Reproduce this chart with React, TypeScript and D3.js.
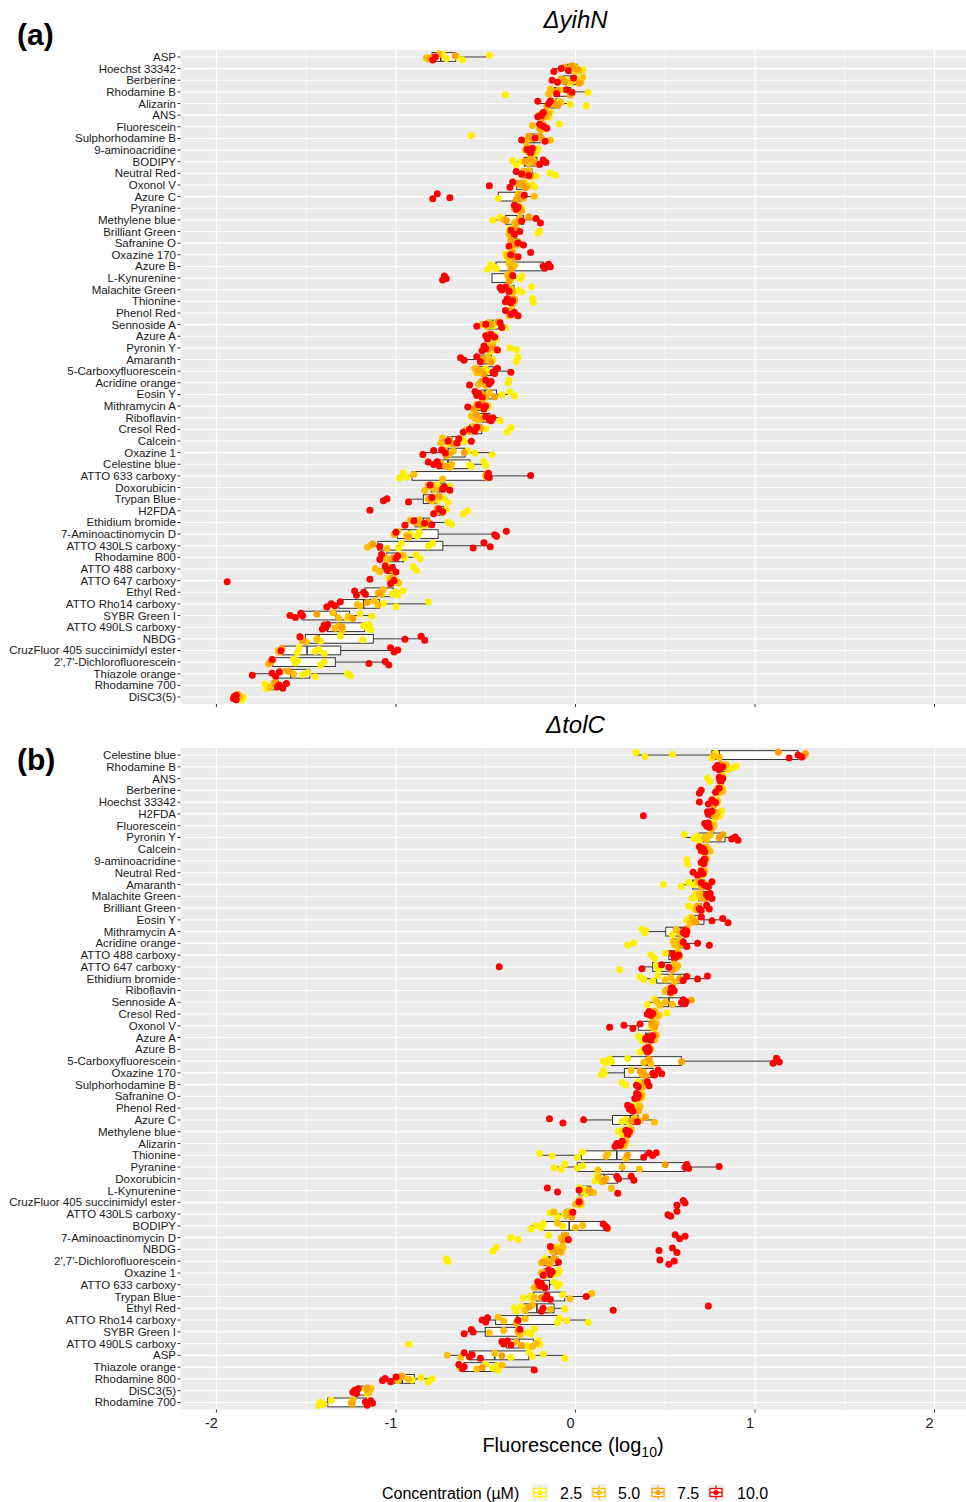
import React from 'react';
import * as d3 from 'd3';

const W = 966;
const H = 1502;

const concLabels = ['2.5', '5.0', '7.5', '10.0'];
const concColors = ['#FFF000', '#FFC000', '#FFA200', '#FF0000'];
const xTicks = [-2, -1, 0, 1, 2];
const xMinor = [-1.5, -0.5, 0.5, 1.5];

const yihnCats = ['ASP', 'Hoechst 33342', 'Berberine', 'Rhodamine B', 'Alizarin', 'ANS', 'Fluorescein', 'Sulphorhodamine B', '9-aminoacridine', 'BODIPY', 'Neutral Red', 'Oxonol V', 'Azure C', 'Pyranine', 'Methylene blue', 'Brilliant Green', 'Safranine O', 'Oxazine 170', 'Azure B', 'L-Kynurenine', 'Malachite Green', 'Thionine', 'Phenol Red', 'Sennoside A', 'Azure A', 'Pyronin Y', 'Amaranth', '5-Carboxyfluorescein', 'Acridine orange', 'Eosin Y', 'Mithramycin A', 'Riboflavin', 'Cresol Red', 'Calcein', 'Oxazine 1', 'Celestine blue', 'ATTO 633 carboxy', 'Doxorubicin', 'Trypan Blue', 'H2FDA', 'Ethidium bromide', '7-Aminoactinomycin D', 'ATTO 430LS carboxy', 'Rhodamine 800', 'ATTO 488 carboxy', 'ATTO 647 carboxy', 'Ethyl Red', 'ATTO Rho14 carboxy', 'SYBR Green I', 'ATTO 490LS carboxy', 'NBDG', 'CruzFluor 405 succinimidyl ester', "2',7'-Dichlorofluorescein", 'Thiazole orange', 'Rhodamine 700', 'DiSC3(5)'];

const yihn25: number[][] = [
  [-0.74, -0.72, -0.66, -0.63, -0.48], [0.04, 0.01, 0.0], [-0.05, -0.03, 0.0], [-0.39, -0.08, 0.07], [-0.09, -0.03, 0.06],
  [-0.17, -0.15, -0.14], [-0.17, -0.09, -0.16], [-0.58, -0.27, -0.22], [-0.24, -0.21, -0.22], [-0.35, -0.33, -0.30],
  [-0.22, -0.14, -0.11], [-0.24, -0.23, -0.28], [-0.43, -0.31, -0.30], [-0.32, -0.30, -0.31], [-0.46, -0.42, -0.33],
  [-0.37, -0.21, -0.20], [-0.35, -0.33, -0.34], [-0.39, -0.38, -0.36], [-0.49, -0.47, -0.45, -0.44], [-0.30, -0.31, -0.36],
  [-0.32, -0.30, -0.245], [-0.35, -0.24, -0.235], [-0.36, -0.34, -0.35], [-0.46, -0.44, -0.39], [-0.45, -0.44, -0.47],
  [-0.47, -0.365, -0.33], [-0.46, -0.33, -0.32], [-0.52, -0.50, -0.49], [-0.49, -0.375, -0.37], [-0.41, -0.365, -0.34],
  [-0.52, -0.49, -0.485], [-0.55, -0.53, -0.42], [-0.50, -0.38, -0.36], [-0.70, -0.63, -0.62], [-0.60, -0.56, -0.465],
  [-0.59, -0.58, -0.51, -0.50], [-0.98, -0.96, -0.94], [-0.77, -0.71, -0.70], [-0.77, -0.735, -0.71], [-0.72, -0.625, -0.60],
  [-0.84, -0.71, -0.69], [-0.92, -0.88, -0.87], [-0.985, -0.97, -0.82, -0.795], [-0.97, -0.95, -0.89, -0.865], [-1.02, -0.905, -0.885],
  [-1.04, -1.02, -1.0, -0.99], [-1.02, -1.0, -0.99, -0.96], [-1.07, -1.0, -0.82], [-1.27, -1.20, -1.135], [-1.18, -1.16, -1.14, -1.15],
  [-1.44, -1.42, -1.31, -1.185], [-1.55, -1.54, -1.45, -1.43, -1.40], [-1.57, -1.56, -1.55, -1.42, -1.40], [-1.52, -1.49, -1.45, -1.27, -1.255], [-1.73, -1.72, -1.67],
  [-1.86, -1.85, -1.87],
];
const yihn50: number[][] = [
  [-0.83, -0.82, -0.76], [-0.01, 0.0, 0.02], [-0.02, 0.03, 0.04], [-0.15, -0.14, -0.02], [-0.13, -0.11, -0.08],
  [-0.16, -0.15, -0.19], [-0.24, -0.19, -0.18], [-0.28, -0.19, -0.14], [-0.28, -0.26, -0.25], [-0.26, -0.24, -0.23],
  [-0.29, -0.28, -0.26], [-0.31, -0.29, -0.27], [-0.32, -0.29, -0.23], [-0.33, -0.31, -0.30], [-0.40, -0.34, -0.31],
  [-0.37, -0.35, -0.34], [-0.35, -0.34, -0.33], [-0.38, -0.37, -0.35], [-0.37, -0.35, -0.34], [-0.38, -0.37, -0.36],
  [-0.37, -0.36, -0.35], [-0.37, -0.35, -0.34], [-0.37, -0.35, -0.34], [-0.52, -0.49, -0.48], [-0.49, -0.48, -0.47],
  [-0.48, -0.47, -0.46], [-0.50, -0.49, -0.48], [-0.56, -0.55, -0.53], [-0.54, -0.51, -0.50], [-0.52, -0.50, -0.48],
  [-0.57, -0.55, -0.53], [-0.58, -0.56, -0.54], [-0.61, -0.59, -0.57], [-0.75, -0.74, -0.72], [-0.73, -0.70, -0.68],
  [-0.75, -0.70, -0.69], [-0.90, -0.74], [-0.84, -0.80, -0.78], [-0.82, -0.80, -0.79], [-0.78, -0.76, -0.75],
  [-0.92, -0.89, -0.87], [-1.01, -0.99, -0.94], [-1.16, -1.14, -1.05], [-1.06, -1.05, -0.96], [-1.115, -1.09, -1.04],
  [-1.03, -1.01, -0.985], [-1.10, -1.08, -1.07], [-1.215, -1.20, -1.12, -1.10], [-1.32, -1.35, -1.265], [-1.34, -1.32, -1.30],
  [-1.53, -1.50, -1.44], [-1.655, -1.65], [-1.71, -1.685], [-1.64, -1.57], [-1.70, -1.68, -1.665],
  [-1.88, -1.87],
];
const yihn75: number[][] = [
  [-0.81, -0.67], [-0.02, 0.01, -0.06], [-0.06, -0.08, 0.02], [-0.10, -0.03, -0.11], [-0.16, -0.12, -0.10],
  [-0.20, -0.18, -0.17], [-0.20, -0.18, -0.17], [-0.26, -0.24, -0.20], [-0.25, -0.27, -0.24], [-0.25, -0.22, -0.28],
  [-0.30, -0.27, -0.25], [-0.30, -0.28, -0.32], [-0.33, -0.31, -0.30], [-0.32, -0.34, -0.31], [-0.385, -0.32, -0.26],
  [-0.36, -0.33, -0.34], [-0.36, -0.33, -0.32], [-0.36, -0.35, -0.34], [-0.36], [-0.37, -0.36],
  [-0.38, -0.36], [-0.36, -0.34], [-0.36, -0.35], [-0.47, -0.43], [-0.48, -0.46],
  [-0.49, -0.46], [-0.52, -0.47], [-0.51, -0.54], [-0.52, -0.49], [-0.51, -0.45],
  [-0.56, -0.52], [-0.55, -0.52], [-0.58, -0.53], [-0.70, -0.68], [-0.72, -0.62],
  [-0.72], [-0.50, -0.49, -0.495], [-0.82, -0.74], [-0.81, -0.76], [-0.77, -0.74],
  [-0.86, -0.82], [-1.005, -0.93], [-1.13], [-1.02], [-1.03, -1.01],
  [-1.02], [-1.09], [-1.16], [-1.44, -1.24], [-1.30],
  [-1.52], [-1.635], [-1.70], [-1.60], [-1.67],
  [-1.88],
];
const yihn100: number[][] = [
  [-0.795, -0.78], [-0.12, -0.08, -0.04], [-0.13, -0.10, -0.01], [-0.105, -0.05, -0.02], [-0.21, -0.15, -0.14],
  [-0.19, -0.18, -0.21], [-0.20, -0.16, -0.18], [-0.30, -0.225, -0.17], [-0.27, -0.25, -0.24], [-0.20, -0.18, -0.165],
  [-0.33, -0.30, -0.26], [-0.48, -0.365, -0.35], [-0.795, -0.77, -0.70, -0.285], [-0.34, -0.33, -0.32], [-0.30, -0.22, -0.195],
  [-0.36, -0.34, -0.31], [-0.37, -0.32, -0.29], [-0.36, -0.32, -0.25], [-0.18, -0.17, -0.15, -0.14], [-0.74, -0.73, -0.72, -0.35],
  [-0.42, -0.41, -0.39, -0.37], [-0.39, -0.38, -0.36, -0.35], [-0.39, -0.36, -0.34, -0.32], [-0.55, -0.50, -0.41, -0.42], [-0.50, -0.49, -0.47, -0.45],
  [-0.52, -0.51, -0.50, -0.435], [-0.64, -0.62, -0.53, -0.55], [-0.46, -0.45, -0.435, -0.36], [-0.59, -0.50, -0.48, -0.47], [-0.56, -0.55, -0.54, -0.52],
  [-0.60, -0.54, -0.51, -0.50], [-0.50, -0.47, -0.46, -0.48], [-0.625, -0.59, -0.56, -0.55], [-0.71, -0.66, -0.65, -0.58], [-0.85, -0.79, -0.725, -0.745],
  [-0.82, -0.79, -0.77, -0.76], [-0.49, -0.485, -0.48, -0.25], [-0.81, -0.74, -0.73, -0.70], [-1.07, -1.05, -0.93, -0.80], [-1.145, -0.79, -0.76, -0.74],
  [-0.95, -0.90, -0.84, -0.80], [-1.0, -0.45, -0.44, -0.385], [-1.09, -0.57, -0.51, -0.475], [-1.09, -1.08, -1.0, -0.99], [-1.06, -1.05, -1.02, -1.0],
  [-1.94, -1.145, -1.03, -1.01], [-1.23, -1.22, -1.18, -1.17], [-1.385, -1.36, -1.34, -1.31], [-1.59, -1.56, -1.53, -1.52], [-1.41, -1.40, -1.39, -1.38],
  [-1.535, -0.95, -0.86, -0.84], [-1.64, -1.03, -1.01, -0.99], [-1.69, -1.15, -1.06, -1.04], [-1.80, -1.69, -1.67, -1.65], [-1.66, -1.65, -1.63, -1.61],
  [-1.905, -1.90, -1.89, -1.89],
];

const tolcCats = ['Celestine blue', 'Rhodamine B', 'ANS', 'Berberine', 'Hoechst 33342', 'H2FDA', 'Fluorescein', 'Pyronin Y', 'Calcein', '9-aminoacridine', 'Neutral Red', 'Amaranth', 'Malachite Green', 'Brilliant Green', 'Eosin Y', 'Mithramycin A', 'Acridine orange', 'ATTO 488 carboxy', 'ATTO 647 carboxy', 'Ethidium bromide', 'Riboflavin', 'Sennoside A', 'Cresol Red', 'Oxonol V', 'Azure A', 'Azure B', '5-Carboxyfluorescein', 'Oxazine 170', 'Sulphorhodamine B', 'Safranine O', 'Phenol Red', 'Azure C', 'Methylene blue', 'Alizarin', 'Thionine', 'Pyranine', 'Doxorubicin', 'L-Kynurenine', 'CruzFluor 405 succinimidyl ester', 'ATTO 430LS carboxy', 'BODIPY', '7-Aminoactinomycin D', 'NBDG', "2',7'-Dichlorofluorescein", 'Oxazine 1', 'ATTO 633 carboxy', 'Trypan Blue', 'Ethyl Red', 'ATTO Rho14 carboxy', 'SYBR Green I', 'ATTO 490LS carboxy', 'ASP', 'Thiazole orange', 'Rhodamine 800', 'DiSC3(5)', 'Rhodamine 700'];

const tolc25: number[][] = [
  [0.337, 0.387, 0.54, 0.76, 0.78], [0.87, 0.895, 0.85], [0.735, 0.75, 0.81], [0.80, 0.82, 0.81], [0.78, 0.79, 0.77],
  [0.78, 0.80, 0.815], [0.76, 0.77, 0.75], [0.605, 0.66, 0.68, 0.69], [0.72, 0.73, 0.71], [0.62, 0.625, 0.72],
  [0.70, 0.72, 0.71], [0.49, 0.59, 0.63, 0.66], [0.65, 0.67, 0.68], [0.63, 0.66, 0.68], [0.62, 0.64, 0.63, 0.655],
  [0.37, 0.385, 0.39, 0.54], [0.29, 0.325, 0.56], [0.42, 0.44, 0.50], [0.245, 0.45, 0.47, 0.46], [0.36, 0.38, 0.43, 0.46],
  [0.52, 0.53, 0.54], [0.40, 0.44, 0.46], [0.44, 0.47, 0.51], [0.42, 0.43, 0.44], [0.35, 0.37, 0.39],
  [0.36, 0.38, 0.39], [0.155, 0.17, 0.19, 0.20, 0.29], [0.145, 0.155, 0.16], [0.26, 0.28, 0.35], [0.35, 0.36, 0.37],
  [0.33, 0.34, 0.35], [0.26, 0.28, 0.30], [0.24, 0.26, 0.27], [0.26, 0.27, 0.28], [-0.20, -0.13, 0.01, 0.04],
  [-0.12, -0.08, -0.06, 0.01, 0.04], [0.11, 0.12, 0.14], [0.02, 0.04, 0.05, 0.06], [0.01, 0.02, 0.03, 0.015], [-0.14, -0.10, -0.06, -0.04],
  [-0.25, -0.22, -0.19, -0.18, -0.07], [-0.36, -0.32, -0.15], [-0.46, -0.44, -0.11, -0.10], [-0.72, -0.71, -0.17], [-0.10, -0.09, -0.12],
  [-0.12, -0.10, -0.09], [-0.29, -0.25, -0.24, -0.07], [-0.34, -0.33, -0.30, -0.06], [-0.10, -0.09, -0.05, 0.07], [-0.32, -0.27, -0.25, -0.23],
  [-0.93, -0.27, -0.21, -0.20], [-0.36, -0.26, -0.24, -0.18, -0.06], [-0.50, -0.46, -0.44, -0.43], [-0.91, -0.86, -0.82, -0.80], [-1.17, -1.16, -1.15],
  [-1.43, -1.42, -1.40, -1.36],
];
const tolc50: number[][] = [
  [0.77, 0.80], [0.84, 0.83, 0.80], [0.80, 0.81, 0.82], [0.80, 0.81, 0.82], [0.76, 0.78, 0.79],
  [0.77, 0.79, 0.78], [0.74, 0.76, 0.77], [0.72, 0.73, 0.75], [0.74, 0.75, 0.73], [0.72, 0.73, 0.71],
  [0.72, 0.71, 0.70], [0.68, 0.70, 0.72], [0.69, 0.70, 0.71], [0.67, 0.69, 0.70], [0.64, 0.65, 0.66],
  [0.56, 0.58, 0.59], [0.545, 0.55, 0.57, 0.58], [0.55, 0.56, 0.57], [0.55, 0.56, 0.57], [0.50, 0.53, 0.55],
  [0.50, 0.51, 0.53], [0.45, 0.47, 0.50, 0.54], [0.43, 0.45, 0.46], [0.43, 0.44, 0.45], [0.44, 0.45, 0.43],
  [0.41, 0.42, 0.40], [0.38, 0.40, 0.42], [0.31, 0.37, 0.38], [0.36, 0.38, 0.37], [0.36, 0.35, 0.37],
  [0.35, 0.36, 0.34], [0.33, 0.36, 0.44], [0.29, 0.30, 0.31], [0.27, 0.28, 0.26], [0.17, 0.18, 0.28],
  [0.125, 0.26, 0.355], [0.13, 0.15, 0.17], [0.07, 0.10, 0.20], [0.0, 0.02, 0.03, 0.025], [-0.12, -0.05, -0.04, -0.03],
  [-0.10, 0.0, 0.04], [-0.08, -0.06, -0.055, -0.05], [-0.13, -0.10, -0.08, -0.07], [-0.19, -0.16, -0.14, -0.11], [-0.19, -0.17, -0.16],
  [-0.23, -0.20, -0.18], [-0.23, -0.03, 0.09], [-0.28, -0.24, -0.14], [-0.43, -0.40, -0.28], [-0.48, -0.40, -0.31],
  [-0.33, -0.24, -0.22], [-0.715, -0.64, -0.45], [-0.645, -0.55, -0.41], [-0.99, -0.96, -0.93], [-1.15, -1.14, -1.16],
  [-1.25, -1.24],
];
const tolc75: number[][] = [
  [1.13, 1.27, 1.28], [0.81], [0.81], [0.79], [0.77],
  [0.76], [0.75], [0.80, 0.82], [0.72], [0.72],
  [0.71], [0.71], [0.72], [0.68], [0.67],
  [0.62], [0.59], [0.58], [0.54], [0.58],
  [0.52], [0.645], [0.44], [0.44, 0.425], [0.44],
  [0.41], [0.41, 0.59], [0.39, 0.36], [0.39], [0.36],
  [0.35], [0.39, 0.31], [0.30], [0.27], [0.29],
  [0.50], [0.16], [0.08], [0.02], [-0.03, -0.02],
  [0.18], [-0.07, -0.06, -0.045], [-0.12, -0.09], [-0.18, -0.15, -0.12], [-0.18],
  [-0.21], [-0.19], [-0.26], [-0.33], [-0.32],
  [-0.30], [-0.41], [-0.52], [-0.97], [-1.16],
  [-1.245],
];
const tolc100: number[][] = [
  [1.19, 1.24, 1.26], [0.78, 0.79, 0.80, 0.82], [0.80, 0.81, 0.82, 0.805], [0.69, 0.70, 0.78, 0.80], [0.69, 0.74, 0.76, 0.78],
  [0.378, 0.735, 0.74, 0.76], [0.72, 0.73, 0.74, 0.745], [0.87, 0.89, 0.905], [0.69, 0.70, 0.71, 0.72], [0.70, 0.71, 0.715, 0.72],
  [0.655, 0.68, 0.70, 0.71], [0.70, 0.72, 0.74, 0.76], [0.73, 0.74, 0.76, 0.75], [0.69, 0.70, 0.73, 0.745], [0.70, 0.76, 0.82, 0.85],
  [0.60, 0.61, 0.615, 0.62], [0.60, 0.62, 0.68, 0.745], [0.54, 0.55, 0.575, 0.56], [-0.425, 0.37, 0.48, 0.52], [0.60, 0.62, 0.68, 0.735],
  [0.53, 0.54, 0.55, 0.535], [0.59, 0.60, 0.61, 0.615], [0.40, 0.41, 0.42, 0.43], [0.19, 0.27, 0.32, 0.36], [0.39, 0.40, 0.42, 0.43],
  [0.39, 0.40, 0.405, 0.41], [1.10, 1.12, 1.135], [0.43, 0.44, 0.46, 0.48], [0.34, 0.35, 0.40, 0.41], [0.33, 0.34, 0.345, 0.35],
  [0.29, 0.30, 0.31, 0.32], [-0.145, -0.07, 0.045, 0.345], [0.28, 0.29, 0.30, 0.29], [0.22, 0.23, 0.25, 0.26], [0.38, 0.41, 0.43, 0.45],
  [0.61, 0.62, 0.63, 0.80], [0.23, 0.24, 0.31, 0.325], [-0.157, -0.10, 0.02, 0.235], [0.02, 0.565, 0.60, 0.61], [-0.015, 0.515, 0.53, 0.565],
  [0.155, 0.17, 0.175], [-0.04, 0.555, 0.58, 0.61], [-0.14, 0.465, 0.54, 0.565], [-0.095, 0.47, 0.52, 0.55], [-0.18, -0.15, -0.14, -0.13],
  [-0.21, -0.20, -0.19, -0.17], [-0.16, -0.14, 0.06, -0.17], [-0.19, -0.18, 0.21, 0.74], [-0.52, -0.50, -0.49, -0.32], [-0.62, -0.58, -0.57, -0.31],
  [-0.41, -0.40, -0.38, -0.36], [-0.62, -0.59, -0.575, -0.53], [-0.65, -0.63, -0.62, -0.23], [-1.075, -1.06, -1.03, -1.0], [-1.24, -1.23, -1.22, -1.21],
  [-1.17, -1.16, -1.14, -1.13],
];

// deterministic vertical jitter pattern (px)
const jitter = [-2.6, 1.5, -0.5, 2.8, -1.8, 0.7, 2.2, -2.9, 1.0, -1.3, 3.0, -0.1, 1.9, -2.2, 0.3];

const x = d3.scaleLinear().domain([-2.2, 2.2]).range([180.5, 970.5]);
const FONT = '"Liberation Sans", Arial, Helvetica, sans-serif';

function boxStats(vals: number[]) {
  const s = vals.slice().sort(d3.ascending);
  const q1 = d3.quantileSorted(s, 0.25) as number;
  const med = d3.quantileSorted(s, 0.5) as number;
  const q3 = d3.quantileSorted(s, 0.75) as number;
  const iqr = q3 - q1;
  const lo = d3.min(s.filter((v) => v >= q1 - 1.5 * iqr)) as number;
  const hi = d3.max(s.filter((v) => v <= q3 + 1.5 * iqr)) as number;
  return { q1, med, q3, lo, hi };
}

function Panel({ cats, series, top, bottom, showTickLabels }: { cats: string[]; series: number[][][]; top: number; bottom: number; showTickLabels: boolean }) {
  const y = d3.scalePoint<string>().domain(cats).range([top, bottom]).padding(0.6);
  const step = y.step();
  const boxH = step * 0.75;
  const left = x(-2.2);
  const right = x(2.2);
  return (
    <g>
      <rect x={left} y={top} width={right - left} height={bottom - top} fill="#EBEBEB" />
      {xMinor.map((t) => (
        <line key={'mi' + t} x1={x(t)} x2={x(t)} y1={top} y2={bottom} stroke="#fff" strokeWidth={0.55} />
      ))}
      {xTicks.map((t) => (
        <line key={'ma' + t} x1={x(t)} x2={x(t)} y1={top} y2={bottom} stroke="#fff" strokeWidth={1.1} />
      ))}
      {cats.map((c) => (
        <line key={'h' + c} x1={left} x2={right} y1={y(c)} y2={y(c)} stroke="#fff" strokeWidth={1.1} />
      ))}
      {cats.map((c, i) => {
        const all = series.flatMap((s) => s[i]);
        const b = boxStats(all);
        const cy = y(c) as number;
        return (
          <g key={'b' + c}>
            <line x1={x(b.lo)} x2={x(b.q1)} y1={cy} y2={cy} stroke="#333" strokeWidth={1} />
            <line x1={x(b.q3)} x2={x(b.hi)} y1={cy} y2={cy} stroke="#333" strokeWidth={1} />
            <rect x={x(b.q1)} y={cy - boxH / 2} width={Math.max(0.5, x(b.q3) - x(b.q1))} height={boxH} fill="#fff" stroke="#333" strokeWidth={1} />
            <line x1={x(b.med)} x2={x(b.med)} y1={cy - boxH / 2} y2={cy + boxH / 2} stroke="#333" strokeWidth={1.6} />
          </g>
        );
      })}
      {cats.map((c, i) => {
        const cy = y(c) as number;
        let k = 0;
        return (
          <g key={'p' + c}>
            {series.map((s, si) =>
              s[i].map((v, vi) => {
                const off = jitter[(k++ + i) % jitter.length];
                return <circle key={si + '-' + vi} cx={x(v)} cy={cy + off} r={3.5} fill={concColors[si]} />;
              })
            )}
          </g>
        );
      })}
      {cats.map((c) => (
        <g key={'l' + c}>
          <line x1={left - 3} x2={left} y1={y(c)} y2={y(c)} stroke="#333" strokeWidth={1} />
          <text x={left - 4.5} y={y(c)} dy="0.35em" textAnchor="end" fontSize={11.5} fill="#1a1a1a" fontFamily={FONT}>
            {c}
          </text>
        </g>
      ))}
      {xTicks.map((t) => (
        <g key={'xt' + t}>
          <line x1={x(t)} x2={x(t)} y1={bottom} y2={bottom + 3} stroke="#333" strokeWidth={1} />
          {showTickLabels && (
            <text x={x(t) - 5} y={bottom + 18} textAnchor="middle" fontSize={14.5} fill="#222" fontFamily={FONT}>
              {t < 0 ? '-' + Math.abs(t) : String(t)}
            </text>
          )}
        </g>
      ))}
    </g>
  );
}

export default function App() {
  const keyX = [532, 591, 650, 708];
  const labX = [560, 618, 677, 737];
  return (
    <svg width={W} height={H} viewBox={`0 0 ${W} ${H}`} style={{ position: 'absolute', left: 0, top: 0, background: '#fff' }}>
      <rect x={0} y={0} width={W} height={H} fill="#fff" />
      <text x={17} y={45} fontSize={30} fontWeight="bold" fontFamily={FONT} fill="#000">(a)</text>
      <text x={575.5} y={28} textAnchor="middle" fontSize={24} fontStyle="italic" fontFamily={FONT} fill="#000">
        <tspan>Δ</tspan>
        <tspan>yihN</tspan>
      </text>
      <Panel cats={yihnCats} series={[yihn25, yihn50, yihn75, yihn100]} top={50} bottom={704} showTickLabels={false} />
      <text x={17} y={770} fontSize={30} fontWeight="bold" fontFamily={FONT} fill="#000">(b)</text>
      <text x={575.5} y={733} textAnchor="middle" fontSize={24} fontStyle="italic" fontFamily={FONT} fill="#000">
        <tspan>Δ</tspan>
        <tspan>tolC</tspan>
      </text>
      <Panel cats={tolcCats} series={[tolc25, tolc50, tolc75, tolc100]} top={748} bottom={1409.5} showTickLabels={true} />
      <text x={573} y={1452} textAnchor="middle" fontSize={20} fontFamily={FONT} fill="#000">
        Fluorescence (log<tspan fontSize={14} dy={5}>10</tspan><tspan dy={-5}>)</tspan>
      </text>
      <text x={382} y={1499} fontSize={16} fontFamily={FONT} fill="#000">Concentration (µM)</text>
      {concLabels.map((lab, i) => {
        const kx = keyX[i];
        const ky = 1484;
        return (
          <g key={'k' + lab}>
            <rect x={kx} y={ky} width={16} height={17} fill="#F2F2F2" />
            <line x1={kx + 8} x2={kx + 8} y1={ky + 1.5} y2={ky + 15.5} stroke={concColors[i]} strokeWidth={1.2} />
            <rect x={kx + 2} y={ky + 4.5} width={12} height={8} fill="#fff" stroke={concColors[i]} strokeWidth={1.3} />
            <line x1={kx + 2} x2={kx + 14} y1={ky + 8.5} y2={ky + 8.5} stroke={concColors[i]} strokeWidth={1.3} />
            <circle cx={kx + 8} cy={ky + 8.5} r={2.6} fill={concColors[i]} />
            <text x={labX[i]} y={1499} fontSize={16} fontFamily={FONT} fill="#000">{lab}</text>
          </g>
        );
      })}
    </svg>
  );
}
